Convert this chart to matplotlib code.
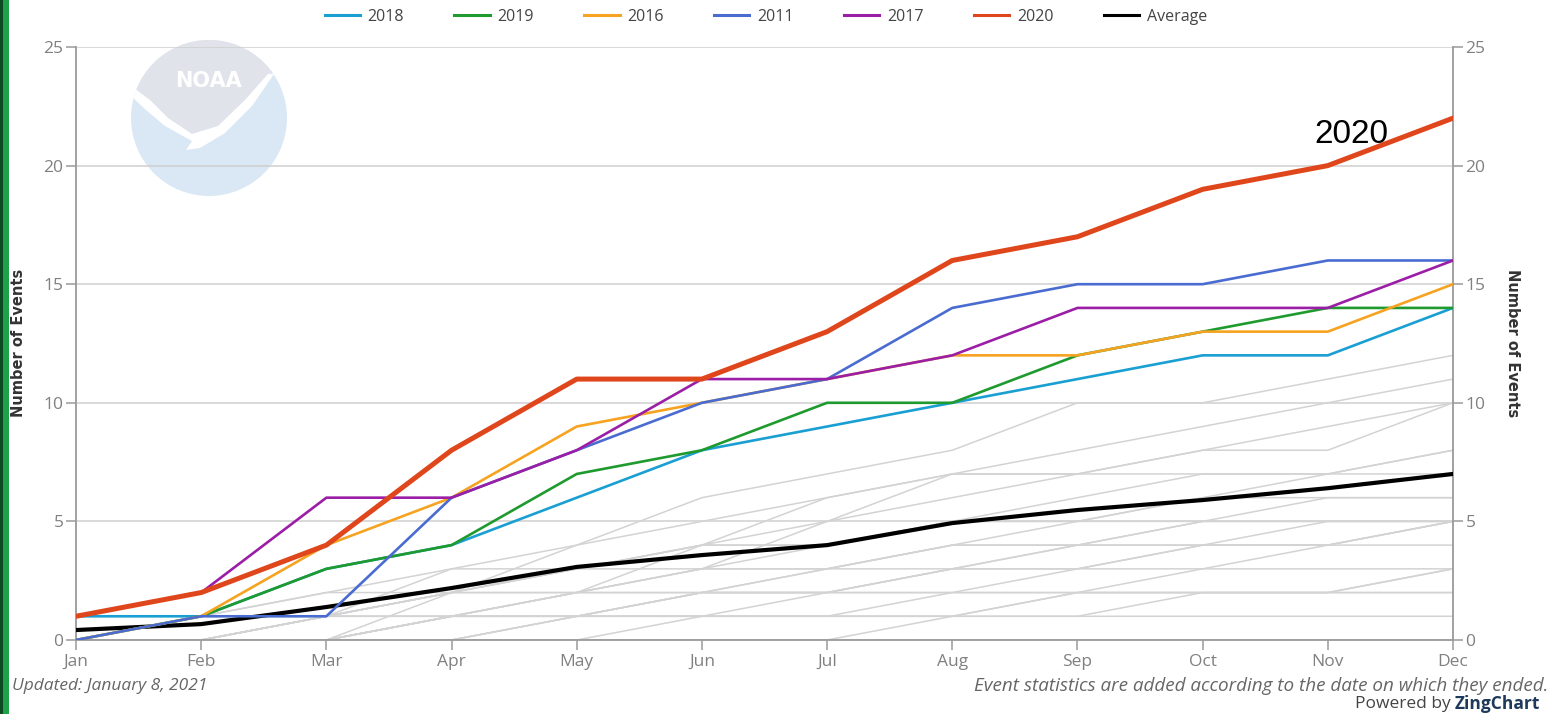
import matplotlib
matplotlib.use("Agg")
import matplotlib.pyplot as plt
from matplotlib.patches import Rectangle, Ellipse, Polygon
from matplotlib.lines import Line2D

plt.rcParams["font.family"] = ["Open Sans", "DejaVu Sans"]

months = ["Jan", "Feb", "Mar", "Apr", "May", "Jun", "Jul", "Aug", "Sep", "Oct", "Nov", "Dec"]

y2018 = [1, 1, 3, 4, 6, 8, 9, 10, 11, 12, 12, 14]
y2019 = [0, 1, 3, 4, 7, 8, 10, 10, 12, 13, 14, 14]
y2016 = [0, 1, 4, 6, 9, 10, 11, 12, 12, 13, 13, 15]
y2011 = [0, 1, 1, 6, 8, 10, 11, 14, 15, 15, 16, 16]
y2017 = [1, 2, 6, 6, 8, 11, 11, 12, 14, 14, 14, 16]
y2020 = [1, 2, 4, 8, 11, 11, 13, 16, 17, 19, 20, 22]
average = [0.42, 0.67, 1.39, 2.19, 3.08, 3.58, 4.0, 4.93, 5.48, 5.9, 6.4, 7.0]

other_years = [
    [0, 1, 1, 2, 4, 6, 7, 8, 10, 10, 11, 12],
    [0, 0, 1, 3, 4, 5, 6, 7, 8, 9, 10, 11],
    [0, 0, 0, 1, 2, 3, 5, 7, 7, 8, 9, 10],
    [0, 1, 2, 3, 3, 4, 6, 7, 7, 8, 8, 10],
    [0, 0, 1, 2, 3, 4, 4, 5, 6, 7, 7, 8],
    [0, 0, 0, 1, 2, 3, 4, 5, 5, 6, 7, 7],
    [0, 1, 1, 2, 3, 3, 3, 4, 5, 5, 5, 5],
    [0, 0, 0, 1, 1, 2, 2, 3, 4, 5, 5, 5],
    [0, 0, 1, 1, 2, 2, 3, 3, 3, 4, 4, 5],
    [0, 0, 0, 0, 1, 1, 2, 2, 2, 2, 2, 3],
    [0, 1, 2, 2, 2, 3, 3, 4, 4, 4, 4, 5],
    [0, 0, 0, 0, 0, 1, 1, 2, 3, 3, 4, 5],
    [0, 0, 1, 1, 1, 2, 2, 2, 2, 2, 2, 3],
    [0, 0, 0, 1, 1, 1, 1, 1, 2, 2, 2, 2],
    [0, 0, 0, 0, 1, 1, 1, 1, 1, 2, 2, 2],
    [0, 0, 0, 1, 2, 2, 2, 3, 4, 4, 4, 4],
    [0, 0, 1, 2, 2, 4, 4, 5, 5, 6, 6, 6],
    [0, 0, 0, 2, 3, 4, 5, 6, 7, 7, 7, 8],
    [0, 0, 1, 1, 1, 1, 1, 1, 1, 1, 1, 1],
    [0, 0, 0, 0, 0, 0, 0, 1, 2, 3, 3, 3],
    [0, 0, 0, 1, 1, 2, 3, 4, 4, 5, 6, 6],
    [0, 0, 0, 0, 1, 2, 2, 3, 3, 4, 5, 5],
]

series = [
    ("2018", y2018, "#1a9fd2", 1.9),
    ("2019", y2019, "#1f9a2e", 1.9),
    ("2016", y2016, "#f5a321", 1.9),
    ("2011", y2011, "#4a6cd0", 1.9),
    ("2017", y2017, "#9b1ea6", 1.9),
    ("2020", y2020, "#e0461b", 3.6),
]
yticks = [0, 5, 10, 15, 20, 25]

W, H = 1554, 714
fig = plt.figure(figsize=(W / 100, H / 100), dpi=100)
fig.patch.set_facecolor("white")
L, R, T, B = 76, 1453, 47, 640
ax = fig.add_axes([L / W, (H - B) / H, (R - L) / W, (B - T) / H])


def fp(x, y):
    return (x / W, 1 - y / H)


# NOAA watermark (decoration)
cx, cy, r = 209, 118, 78
circ = Ellipse(fp(cx, cy), 2 * r / W, 2 * r / H, transform=fig.transFigure,
               facecolor="#dae8f5", edgecolor="none", zorder=0)
fig.add_artist(circ)
gray_pts = [(120, 30), (300, 30), (300, 60), (268, 74), (245, 100), (218, 126), (192, 134),
            (168, 118), (150, 100), (131, 86), (120, 80)]
gray = Polygon([fp(*p) for p in gray_pts], closed=True, transform=fig.transFigure,
               facecolor="#e1e3ea", edgecolor="none", zorder=0.2)
fig.add_artist(gray)
gray.set_clip_path(circ)
swoosh_pts = [(131, 86), (150, 100), (168, 118), (192, 134), (218, 126), (245, 100), (268, 74),
              (274, 74), (252, 106), (225, 133), (200, 148), (186, 150), (192, 141), (165, 126),
              (146, 110), (130, 95)]
sw = Polygon([fp(*p) for p in swoosh_pts], closed=True, transform=fig.transFigure,
             facecolor="white", edgecolor="none", zorder=0.3)
fig.add_artist(sw)
sw.set_clip_path(circ)
fig.text(*fp(cx, 81), "NOAA", color="white", fontsize=15, fontweight="bold",
         ha="center", va="center", family="DejaVu Sans", zorder=0.5)
ax.set_facecolor("none")
ax.set_zorder(2)

x = list(range(len(months)))
for g in other_years:
    ax.plot(x, g, color="#d3d3d3", lw=1.1, zorder=2, solid_joinstyle="round")
ax.plot(x, average, color="black", lw=3.0, zorder=3, solid_joinstyle="round")
for name, vals, col, lw in series:
    ax.plot(x, vals, color=col, lw=lw, zorder=4, solid_joinstyle="round", label=name)

ax.set_xlim(0, 11)
ax.set_ylim(0, 25)
ax.set_yticks(yticks)
ax.set_xticks(x)
ax.set_xticklabels(months)
ax.yaxis.grid(True, color="#cfcfcf", lw=1.1, zorder=1)
ax.set_axisbelow(True)
ax.spines["top"].set_visible(False)
for s in ["left", "right", "bottom"]:
    ax.spines[s].set_color("#9a9a9a")
    ax.spines[s].set_linewidth(1.3)
ax.tick_params(axis="both", colors="#9a9a9a", labelcolor="#808080", labelsize=12.5, length=7, width=1.1)
ax.tick_params(axis="y", pad=2, right=True, labelright=True)
ax.tick_params(axis="x", pad=3)

fig.text(*fp(19, 343), "Number of Events", rotation=90, ha="center", va="center",
         fontsize=10.5, fontweight="bold", color="#333333", family="DejaVu Sans")
fig.text(*fp(1512, 343), "Number of Events", rotation=-90, ha="center", va="center",
         fontsize=10.5, fontweight="bold", color="#333333", family="DejaVu Sans")

handles = [Line2D([0], [0], color=col, lw=2.2) for _, _, col, _ in series]
handles.append(Line2D([0], [0], color="black", lw=2.2))
labels = [s[0] for s in series] + ["Average"]
fig.legend(handles, labels, loc="center", bbox_to_anchor=fp(766, 17), ncol=7,
           frameon=False, fontsize=11.5, handlelength=2.2, handletextpad=0.5, columnspacing=3.15,
           labelcolor="#444444")

ax.text(10.19, 20.65, "2020", fontsize=24, color="black", ha="center", va="bottom",
        family="Liberation Sans", zorder=6)

fig.text(*fp(12, 686), "Updated: January 8, 2021", ha="left", va="center",
         fontsize=12.5, style="italic", color="#666666")
fig.text(*fp(1548, 686), "Event statistics are added according to the date on which they ended.",
         ha="right", va="center", fontsize=13.6, style="italic", color="#666666")
fig.text(*fp(1540, 704), "ZingChart", ha="right", va="center", fontsize=12.5,
         fontweight="bold", color="#1e3a5a")
fig.text(*fp(1451, 704), "Powered by", ha="right", va="center", fontsize=12.5, color="#444444")

# left green page edge
fig.add_artist(Rectangle((0, 0), 9 / W, 1, transform=fig.transFigure, facecolor="#1fa14a",
                         edgecolor="none", zorder=10))
fig.add_artist(Rectangle((0, 0), 3 / W, 1, transform=fig.transFigure, facecolor="#0d4a22",
                         edgecolor="none", zorder=10))

fig.savefig("out.png", dpi=100, facecolor="white")
